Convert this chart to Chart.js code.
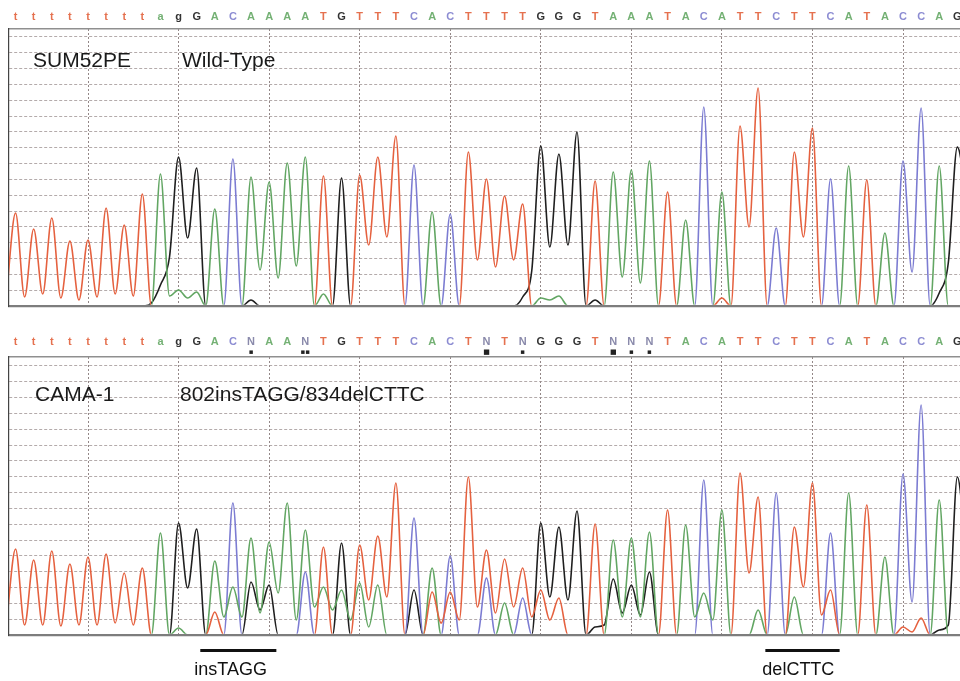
<!DOCTYPE html>
<html><head><meta charset="utf-8">
<script src="https://cdn.jsdelivr.net/npm/chart.js@4"></script>
<style>
html,body{margin:0;padding:0;background:#fff;}
#wrap{position:relative;width:960px;height:681px;background:#fff;overflow:hidden;}
canvas{position:absolute;left:0;}
</style></head><body>
<div id="wrap">
<canvas id="c1" width="960" height="312" style="top:0px"></canvas>
<canvas id="c2" width="960" height="369" style="top:312px"></canvas>
</div>
<script>
// ---------- DATA ----------
// base calls (one per base position 1..53)
const topCalls = ['t','t','t','t','t','t','t','t','a','g','G','A','C','A','A','A','A','T','G','T','T','T','C','A','C','T','T','T','T','G','G','G','T','A','A','A','T','A','C','A','T','T','C','T','T','C','A','T','A','C','C','A','G'];
const botCalls = ['t','t','t','t','t','t','t','t','a','g','G','A','C','N','A','A','N','T','G','T','T','T','C','A','C','T','N','T','N','G','G','G','T','N','N','N','T','A','C','A','T','T','C','T','T','C','A','T','A','C','C','A','G'];
// quality marks under ambiguous calls (bottom trace)
const botMarks = ['','','','','','','','','','','','','','\u25AA','','','\u25AA\u25AA','','','','','','','','','','\u25A0','','\u25AA','','','','','\u25A0','\u25AA','\u25AA','','','','','','','','','','','','','','','','',''];
// vertical grid every 5 bases
const gridBases = [5,10,15,20,25,30,35,40,45,50];

// trace intensities sampled at half-base steps: [edge, base1, gap, base2, gap, ... base53, gap]
const topT = [12,
 93,9, 77,12, 88,8, 65,6, 66,9, 98,12, 81,10, 112,0, 0,0, 0,0,
 0,0, 0,0, 0,0, 0,0, 0,0, 0,0, 0,0, 130,0, 0,0, 131,61,
 149,69, 170,0, 0,0, 0,0, 0,0, 154,46, 127,39, 110,46, 102,0, 0,0,
 0,0, 0,0, 125,0, 0,0, 0,0, 0,0, 114,0, 0,0, 0,0, 8,0,
 180,79, 218,0, 0,0, 154,69, 178,0, 0,0, 0,0, 126,0, 0,0, 0,0,
 0,0, 0,0, 0,0];
const topA = [0,
 0,0, 0,0, 0,0, 0,0, 0,0, 0,0, 0,0, 0,0, 132,10, 16,8,
 14,0, 97,0, 0,0, 129,36, 124,28, 143,40, 149,0, 12,0, 0,0, 0,0,
 0,0, 0,0, 0,0, 94,0, 0,0, 0,0, 0,0, 0,0, 0,0, 8,6,
 10,0, 0,0, 0,0, 134,29, 136,23, 145,0, 0,0, 86,0, 0,0, 114,0,
 0,0, 0,0, 0,0, 0,0, 0,0, 0,0, 140,0, 0,0, 73,0, 0,0,
 0,0, 140,0, 0,0];
const topC = [0,
 0,0, 0,0, 0,0, 0,0, 0,0, 0,0, 0,0, 0,0, 0,0, 0,0,
 0,0, 0,0, 147,0, 0,0, 0,0, 0,0, 0,0, 0,0, 0,0, 0,0,
 0,0, 0,0, 141,0, 0,0, 92,0, 0,0, 0,0, 0,0, 0,0, 0,0,
 0,0, 0,0, 0,0, 0,0, 0,0, 0,0, 0,0, 0,0, 199,0, 0,0,
 0,0, 0,0, 78,0, 0,0, 0,0, 127,0, 0,0, 0,0, 0,0, 145,34,
 198,0, 0,0, 0,0];
const topG = [0,
 0,0, 0,0, 0,0, 0,0, 0,0, 0,0, 0,0, 0,3, 21,49, 149,68,
 138,0, 0,0, 0,0, 6,0, 0,0, 0,0, 0,0, 0,0, 128,0, 0,0,
 0,0, 0,0, 0,0, 0,0, 0,0, 0,0, 0,0, 0,0, 9,35, 160,59,
 152,61, 174,0, 6,0, 0,0, 0,0, 0,0, 0,0, 0,0, 0,0, 0,0,
 0,0, 0,0, 0,0, 0,0, 0,0, 0,0, 0,0, 0,0, 0,0, 0,0,
 0,0, 13,43, 159,110];

const botT = [13,
 86,10, 75,10, 84,9, 71,10, 78,10, 81,12, 62,10, 67,0, 0,0, 0,0,
 0,0, 23,0, 0,0, 0,0, 0,0, 0,0, 0,0, 88,0, 0,0, 90,35,
 99,38, 152,0, 0,0, 43,12, 43,15, 158,28, 85,22, 76,28, 67,18, 45,15,
 37,0, 0,0, 111,0, 0,0, 0,0, 0,0, 125,0, 0,0, 0,0, 0,0,
 162,62, 138,0, 0,0, 108,48, 152,20, 45,0, 0,0, 130,0, 0,0, 8,3,
 17,0, 0,0, 0,0];
const botA = [0,
 0,0, 0,0, 0,0, 0,0, 0,0, 0,0, 0,0, 0,0, 102,0, 7,0,
 0,0, 74,18, 48,18, 97,22, 93,42, 132,15, 105,28, 48,25, 45,15, 52,8,
 50,0, 0,0, 0,0, 67,0, 0,0, 0,0, 0,0, 32,0, 0,0, 0,0,
 0,0, 0,0, 0,0, 95,18, 97,18, 103,0, 0,0, 110,18, 42,15, 125,0,
 0,0, 25,0, 0,0, 38,0, 0,0, 0,0, 142,0, 0,0, 78,0, 0,0,
 0,0, 135,0, 0,0];
const botC = [0,
 0,0, 0,0, 0,0, 0,0, 0,0, 0,0, 0,0, 0,0, 0,0, 0,0,
 0,0, 0,0, 132,0, 0,0, 0,0, 0,0, 63,0, 0,0, 0,0, 0,0,
 0,0, 0,0, 117,0, 0,0, 79,0, 0,0, 57,0, 0,0, 37,0, 0,0,
 0,0, 0,0, 0,0, 0,0, 0,0, 0,0, 0,0, 0,0, 155,0, 0,0,
 0,0, 0,0, 142,0, 0,0, 0,0, 102,0, 0,0, 0,0, 0,0, 161,33,
 230,0, 0,0, 0,0];
const botG = [0,
 0,0, 0,0, 0,0, 0,0, 0,0, 0,0, 0,0, 0,0, 0,0, 112,47,
 106,0, 0,0, 0,0, 53,25, 50,0, 0,0, 0,0, 0,0, 92,0, 0,0,
 0,0, 0,0, 45,0, 0,0, 0,0, 0,0, 0,0, 0,0, 0,0, 112,38,
 108,35, 124,0, 8,10, 56,22, 50,20, 63,0, 0,0, 0,0, 0,0, 0,0,
 0,0, 0,0, 0,0, 0,0, 0,0, 0,0, 0,0, 0,0, 0,0, 0,0,
 0,0, 5,10, 158,80];

// ---------- STYLE ----------
const COL = {T:'#e5613f', A:'#62a663', C:'#7c7cd2', G:'#1f1f1f', N:'#8c8cab'};
const LETTER_COL = {T:'#e5714f', A:'#74b174', C:'#8c8cd2', G:'#333333', N:'#8a8aab'};
const X_MIN = 0.638, X_MAX = 53.147, GRID_STEP = 15.83;

function pts(arr){ return arr.map((v,j)=>({x:0.5+0.5*j, y:v})); }

const seqPlugin = {
  id:'seq',
  afterDraw(chart, args, o){
    const {ctx, chartArea} = chart, xs = chart.scales.x;
    ctx.save();
    ctx.textAlign='center'; ctx.textBaseline='middle';
    o.calls.forEach((c,i)=>{
      const x = xs.getPixelForValue(i+1);
      ctx.font = 'bold 11px "Liberation Sans", Arial, sans-serif';
      ctx.fillStyle = LETTER_COL[c.toUpperCase()];
      ctx.fillText(c, x, chartArea.top - o.offset);
      if (o.marks && o.marks[i]) {
        ctx.font = '7px "DejaVu Sans", sans-serif';
        ctx.fillStyle = '#222';
        ctx.fillText(o.marks[i], x, chartArea.top - o.markOffset);
      }
    });
    ctx.restore();
  }
};
const labelPlugin = {
  id:'panelLabels',
  afterDatasetsDraw(chart, args, o){
    const {ctx, chartArea} = chart;
    ctx.save();
    ctx.font = '21px "Liberation Sans", Arial, sans-serif';
    ctx.fillStyle = '#1a1a1a'; ctx.textBaseline='middle'; ctx.textAlign='left';
    o.items.forEach(it=>ctx.fillText(it.text, chartArea.left + it.dx, chartArea.top + it.dy));
    ctx.restore();
  }
};
const markPlugin = {
  id:'mutMarks',
  afterDraw(chart, args, o){
    if (!o.items) return;
    const {ctx, chartArea} = chart, xs = chart.scales.x;
    ctx.save();
    o.items.forEach(it=>{
      const x1 = xs.getPixelForValue(it.from), x2 = xs.getPixelForValue(it.to);
      ctx.fillStyle='#111';
      ctx.fillRect(x1, chartArea.bottom + 14, x2 - x1, 3);
      ctx.font = '18px "Liberation Sans", Arial, sans-serif';
      ctx.textAlign='left'; ctx.textBaseline='middle';
      ctx.fillText(it.text, x1 + it.shift, chartArea.bottom + 35);
    });
    ctx.restore();
  }
};

function makeChart(id, ch, calls, marks, yMax, pad, labels, seqOff, muts){
  const ds = [['T',ch.T],['A',ch.A],['C',ch.C],['G',ch.G]].map(([b,arr])=>({
    label:b, data:pts(arr), borderColor:COL[b], borderWidth:1.6, pointRadius:0,
    fill:false, cubicInterpolationMode:'monotone', clip:{left:0,top:6,right:0,bottom:-1.3}
  }));
  return new Chart(document.getElementById(id), {
    type:'line',
    data:{datasets:ds},
    options:{
      responsive:false, animation:false, devicePixelRatio:1,
      layout:{padding:pad, autoPadding:false},
      plugins:{legend:{display:false}, tooltip:{enabled:false},
        seq:{calls, marks, offset:seqOff[0], markOffset:seqOff[1]},
        panelLabels:{items:labels},
        mutMarks:{items:muts}},
      scales:{
        x:{type:'linear', min:X_MIN, max:X_MAX, position:'bottom',
          afterBuildTicks:s=>{s.ticks = gridBases.map(v=>({value:v}));},
          ticks:{display:false},
          grid:{color:'rgba(120,105,105,0.8)', lineWidth:1, drawTicks:false},
          border:{display:true, color:'#7d7d7d', width:2.2, dash:[2,2]}},
        x2:{type:'linear', min:X_MIN, max:X_MAX, position:'top',
          ticks:{display:false}, grid:{display:false, drawTicks:false},
          border:{display:true, color:'#8f8f8f', width:1.5}},
        y:{type:'linear', min:0, max:yMax,
          afterBuildTicks:s=>{const t=[]; for(let v=GRID_STEP; v<yMax; v+=GRID_STEP) t.push({value:v}); s.ticks=t;},
          ticks:{display:false},
          grid:{color:'rgba(155,143,143,0.75)', lineWidth:1, drawTicks:false},
          border:{display:true, color:'#444', width:1.2, dash:[3,2]}}
      }
    },
    plugins:[seqPlugin, labelPlugin, markPlugin]
  });
}

makeChart('c1', {T:topT, A:topA, C:topC, G:topG}, topCalls, null, 277,
  {left:9, right:0, top:29, bottom:6},
  [{text:'SUM52PE', dx:24, dy:32}, {text:'Wild-Type', dx:173, dy:32}], [12, 0], null);

makeChart('c2', {T:botT, A:botA, C:botC, G:botG}, botCalls, botMarks, 278,
  {left:9, right:0, top:45, bottom:46},
  [{text:'CAMA-1', dx:26, dy:38}, {text:'802insTAGG/834delCTTC', dx:171, dy:38}], [15, 5],
  [{text:'insTAGG', from:11.2, to:15.4, shift:-6}, {text:'delCTTC', from:42.4, to:46.5, shift:-3}]);
</script>
</body></html>
